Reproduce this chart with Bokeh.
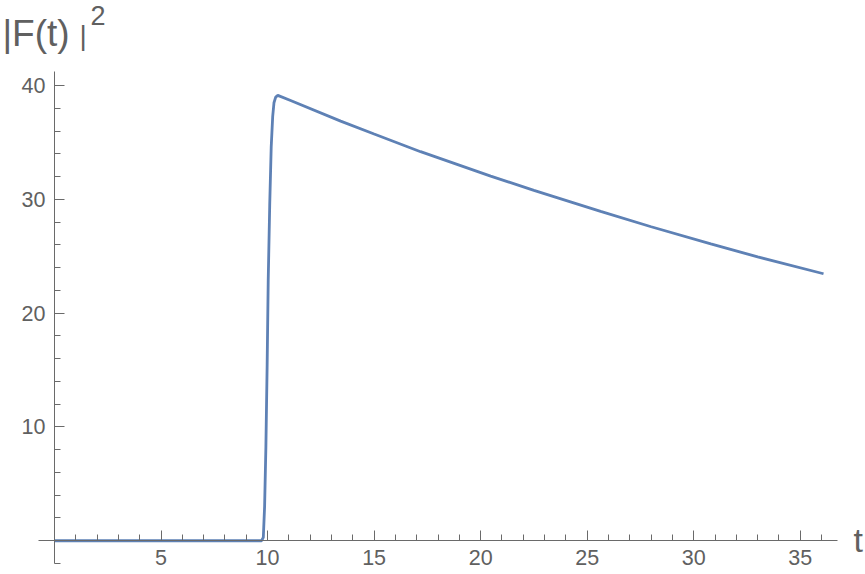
from bokeh.plotting import figure
from bokeh.models import FixedTicker, Label, Range1d
from bokeh.embed import file_html
from bokeh.resources import INLINE

# Data
t_vals = [0, 9.72, 9.80, 9.86, 9.92, 9.98, 10.03, 10.10, 10.17, 10.24, 10.30, 10.38,
          10.48, 11.08, 13.43, 15.0, 17.18, 20.47, 22.5, 25.63, 28.0, 30.8, 33.0, 36.09]
f_vals = [0, 0, 0.3, 3.0, 8.2, 15.5, 22.9, 29.5, 34.6, 37.3, 38.5, 39.0,
          39.15, 38.7, 36.89, 35.75, 34.2, 32.05, 30.8, 28.95, 27.6, 26.1, 24.95, 23.47]

x_major = [5, 10, 15, 20, 25, 30, 35]
x_minor = [1, 2, 3, 4, 6, 7, 8, 9, 11, 12, 13, 14, 16, 17, 18, 19, 21, 22, 23, 24,
           26, 27, 28, 29, 31, 32, 33, 34, 36]
y_major = [10, 20, 30, 40]
y_minor = [-2, 2, 4, 6, 8, 12, 14, 16, 18, 22, 24, 26, 28, 32, 34, 36, 38]

FONT = "Liberation Sans"
AXIS_COLOR = "#6a6a6a"
TEXT_COLOR = "#606060"
LINE_COLOR = "#5E81B5"

p = figure(width=865, height=574, output_backend="svg", toolbar_location=None,
           x_range=Range1d(-2.534, 38.06), y_range=Range1d(-2.967, 47.49),
           min_border=0, background_fill_color="white",
           border_fill_color="white")
p.outline_line_color = None
p.xgrid.visible = False
p.ygrid.visible = False

p.line(t_vals, f_vals, line_color=LINE_COLOR, line_width=2.8)

for ax in (p.xaxis[0], p.yaxis[0]):
    ax.fixed_location = 0
    ax.axis_line_color = AXIS_COLOR
    ax.major_tick_line_color = AXIS_COLOR
    ax.minor_tick_line_color = AXIS_COLOR
    ax.major_tick_in = 10
    ax.major_tick_out = 0
    ax.minor_tick_in = 6
    ax.minor_tick_out = 0
    ax.major_label_text_font = FONT
    ax.major_label_text_font_size = "21.5px"
    ax.major_label_text_color = TEXT_COLOR

p.xaxis[0].bounds = (-0.75, 36.75)
p.yaxis[0].bounds = (-2.0, 41.25)
p.xaxis[0].ticker = FixedTicker(ticks=x_major, minor_ticks=x_minor)
p.yaxis[0].ticker = FixedTicker(ticks=y_major, minor_ticks=y_minor)
p.xaxis[0].major_label_standoff = 9
p.yaxis[0].major_label_standoff = 9

p.add_layout(Label(x=-2.44, y=44.6, text="|F(t)", text_font=FONT,
                   text_font_size="37px", text_color=TEXT_COLOR,
                   text_baseline="alphabetic", text_align="left"))
p.add_layout(Label(x=1.17, y=44.4, text="|", text_font=FONT,
                   text_font_size="28px", text_color=TEXT_COLOR,
                   text_baseline="alphabetic", text_align="left"))
p.add_layout(Label(x=1.69, y=46.2, text="2", text_font=FONT,
                   text_font_size="27px", text_color=TEXT_COLOR,
                   text_baseline="alphabetic", text_align="left"))
p.add_layout(Label(x=37.5, y=0.03, text="t", text_font=FONT,
                   text_font_size="34px", text_color=TEXT_COLOR,
                   text_baseline="alphabetic", text_align="left"))

open("out.html", "w").write(file_html(p, INLINE))
